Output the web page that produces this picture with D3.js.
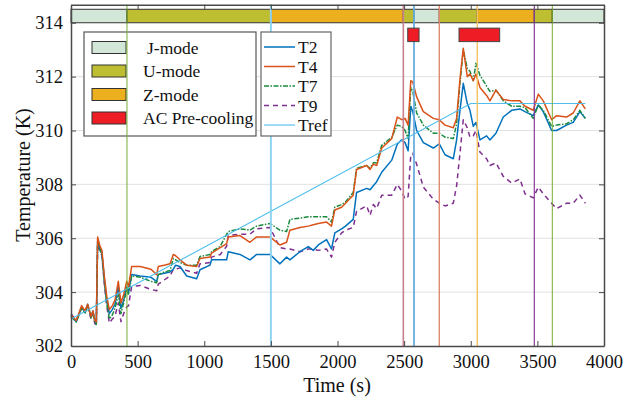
<html>
    <head>
        <script src="https://cdn.jsdelivr.net/npm/d3@7"></script>
        <style>
            body { margin: 0; background: white; }
        </style>
    </head>
    <body>

        <svg id="content"></svg>

        <script>

            // time samples (s) shared by all sensor series
            let times = [0,40,80,105,125,150,165,178,190,200,
                218,232,250,268,288,310,330,355,375,395,
                418,432,455,520,600,643,655,700,743,768,
                785,818,868,943,968,1043,1055,1120,1168,1180,
                1268,1343,1393,1493,1568,1618,1643,1718,1781,1818,
                1856,1918,1955,1980,2031,2060,2118,2143,2219,2244,
                2269,2294,2332,2407,
                2449,2482,2507,2530,2550,2565,2594,2644,2719,2764,
                2807,2869,2894,2919,2944,2974,2994,3019,3039,3069,
                3119,3144,3189,3244,3307,3369,3407,3469,3507,3544,
                3607,3644,3719,3769,3819,3860];

            let T2 = [303.1,302.9,303.45,303.25,303.55,303.1,303.3,302.95,302.85,305.9,
                305.6,305.45,304.5,303.7,303.2,303.35,303.55,304.2,303.4,303.7,
                304.2,304.0,304.65,304.6,304.55,304.4,304.65,304.7,304.75,304.85,
                305.0,304.95,304.6,304.5,304.83,305.0,305.2,305.2,305.2,305.5,
                305.4,305.2,305.4,305.4,305.05,305.3,305.2,305.5,305.69,305.55,
                305.75,305.95,305.6,306.2,306.35,306.45,306.7,307.7,307.85,307.8,
                307.95,308.1,308.45,308.9,
                309.5,309.65,309.55,309.25,310.9,310.7,310.0,309.55,309.35,309.5,
                309.1,308.95,309.65,310.75,311.75,311.0,310.75,310.15,310.3,309.65,
                309.8,309.65,309.9,310.5,310.75,310.8,310.7,310.55,310.95,310.7,
                310.0,310.0,310.2,310.3,310.7,310.45];

            let T4 = [303.15,302.95,303.5,303.3,303.55,303.1,303.3,302.95,302.9,306.05,
                305.7,305.55,304.6,303.85,303.35,303.5,303.7,304.4,303.6,303.9,
                304.4,304.2,304.95,304.95,304.85,304.65,304.95,305.0,305.05,305.4,
                305.35,305.2,305.0,304.95,305.25,305.3,305.45,305.65,305.8,306.05,
                306.1,305.85,306.05,306.05,305.75,305.85,306.3,306.4,306.45,306.5,
                306.55,306.6,306.45,307.05,307.15,307.3,307.6,308.55,308.7,308.55,
                308.75,308.7,309.35,309.7,
                310.5,310.4,310.45,310.2,311.85,311.8,311.25,310.7,310.45,310.4,
                310.2,310.1,310.45,311.9,313.05,312.0,312.1,311.85,312.1,311.6,
                311.3,311.1,311.5,311.15,311.1,311.1,310.9,310.75,311.35,311.1,
                310.4,310.55,310.5,310.65,311.1,310.8];

            let T7 = [303.1,302.9,303.4,303.2,303.5,303.05,303.25,302.9,302.8,305.95,
                305.55,305.4,304.4,303.6,303.0,303.15,303.4,303.9,303.2,303.6,
                304.1,303.9,304.6,304.55,304.4,304.35,304.65,304.75,304.8,305.25,
                305.2,305.1,305.0,305.0,305.32,305.4,305.5,305.7,306.15,306.25,
                306.35,306.3,306.45,306.55,306.3,306.25,306.7,306.75,306.8,306.8,
                306.8,306.8,306.6,307.15,307.25,307.35,307.7,308.6,308.7,308.6,
                308.8,308.8,309.45,309.75,
                310.2,310.15,310.0,309.7,311.6,311.45,310.65,310.2,309.9,309.9,
                309.75,309.7,310.25,311.75,313.0,312.3,312.2,311.85,312.5,312.05,
                311.65,311.45,311.5,311.1,310.9,310.9,310.85,310.45,310.95,310.75,
                310.15,310.2,310.25,310.4,310.75,310.45];

            let T9 = [303.2,302.95,303.45,303.25,303.5,303.0,303.2,302.85,302.75,305.8,
                305.5,305.35,304.3,303.5,302.85,303.0,303.1,303.6,302.9,303.2,
                303.45,303.5,304.2,304.25,304.1,304.05,304.3,304.45,304.6,304.85,
                304.85,304.9,304.8,304.7,305.05,305.1,305.3,305.4,305.7,306.1,
                306.15,306.15,306.35,306.4,305.65,305.6,305.6,305.5,305.6,305.6,
                305.55,305.6,305.3,305.85,306.2,306.3,306.4,307.0,307.2,306.85,
                307.25,307.1,307.6,307.6,
                308.0,307.75,307.45,307.55,309.1,309.15,308.75,307.9,307.45,307.3,
                307.2,307.3,307.95,309.15,310.4,310.1,309.75,309.8,310.0,309.2,
                308.95,308.7,308.8,308.3,308.05,308.2,307.65,307.5,307.9,307.65,
                307.3,307.1,307.3,307.3,307.6,307.3];

            // reference ramp
            let trefTimes = [0, 3000, 3860];
            let trefValues = [303.0, 311.0, 311.0];

            // operating modes along the top bar
            let modeNames = ["J-mode", "U-mode", "Z-mode", "AC Pre-cooling"];
            let modeSeq = ["J-mode","U-mode","Z-mode","U-mode","J-mode","U-mode","Z-mode","U-mode","J-mode"];
            let modeStarts = [0, 420, 1500, 2494, 2574, 2764, 3049, 3477, 3612];
            let modeEnds = [420, 1500, 2494, 2574, 2764, 3049, 3477, 3612, 4000];

            let coolStarts = [2527, 2912];
            let coolEnds = [2612, 3217];

            // switching instants marked by vertical lines
            let eventTimes = [420, 1500, 2494, 2574, 2764, 3049, 3477, 3612];

            let xTicks = [0, 500, 1000, 1500, 2000, 2500, 3000, 3500, 4000];
            let yTicks = [302, 304, 306, 308, 310, 312, 314];

            let seriesNames = ["T2", "T4", "T7", "T9", "Tref"];

            // ---- styles ----
            let serif = "'Liberation Serif', 'Times New Roman', 'DejaVu Serif', serif";
            let modeColor = {"J-mode": "#d3e7d8", "U-mode": "#bdbe32", "Z-mode": "#ecb01f", "AC Pre-cooling": "#ee1c25"};
            let seriesStyle = {
                T2: {color: "#0072bd", width: 1.5, dash: null},
                T4: {color: "#d95319", width: 1.5, dash: null},
                T7: {color: "#1a8a3f", width: 1.5, dash: "5,1.5,1.5,1.5"},
                T9: {color: "#7e2f8e", width: 1.5, dash: "5,4"},
                Tref: {color: "#4dbeee", width: 1.1, dash: null}
            };
            let eventColors = ["#77ac30", "#8fd3f2", "#c9808e", "#6aaee0", "#e08a70", "#f5c462", "#8a3d99", "#77ac30"];
            let eventWidths = [1, 2, 1.6, 1.8, 1.4, 1.4, 1.2, 1];

            let bodyHeight = 402;
            let bodyWidth = 633;

            let body = d3.select("#content")
                            .attr("height", bodyHeight)
                            .attr("width", bodyWidth);

            let x = d3.scaleLinear().domain([0, 4000]).range([71, 604]);
            let y = d3.scaleLinear().domain([302, 314.67]).range([346, 4.7]);

            // grid
            body.append("g")
                .selectAll("line")
                .data(yTicks.filter(d => d > 302 && d < 314))
                .enter()
                .append("line")
                .attr("x1", x(0)).attr("x2", x(4000))
                .attr("y1", d => y(d)).attr("y2", d => y(d))
                .attr("stroke", "#e2e2e2")
                .attr("stroke-width", 1);

            // sensor lines
            let series = {T2: T2, T4: T4, T7: T7, T9: T9};
            let line = d3.line().x(d => x(d[0])).y(d => y(d[1]));

            let drawOrder = ["T9", "T2", "T7", "T4"];
            drawOrder.forEach(name => {
                let pts = times.map((t, i) => [t, series[name][i]]);
                body.append("path")
                    .attr("d", line(pts))
                    .attr("fill", "none")
                    .attr("stroke", seriesStyle[name].color)
                    .attr("stroke-width", seriesStyle[name].width)
                    .attr("stroke-linejoin", "round")
                    .attr("stroke-dasharray", seriesStyle[name].dash);
            });

            body.append("path")
                .attr("d", line(trefTimes.map((t, i) => [t, trefValues[i]])))
                .attr("fill", "none")
                .attr("stroke", seriesStyle.Tref.color)
                .attr("stroke-width", seriesStyle.Tref.width);

            // legend for modes
            let leg1 = body.append("g");
            leg1.append("rect")
                .attr("x", 84).attr("y", 32)
                .attr("width", 172).attr("height", 104)
                .attr("fill", "white")
                .attr("stroke", "#555")
                .attr("stroke-width", 1.2);

            let leg1Item = leg1.selectAll("g")
                .data(modeNames)
                .enter()
                .append("g")
                .attr("transform", (d, i) => `translate(0, ${47.5 + i * 23.5})`);

            leg1Item.append("rect")
                .attr("x", 92).attr("y", -6)
                .attr("width", 34).attr("height", 12)
                .attr("fill", d => modeColor[d])
                .attr("stroke", "#333")
                .attr("stroke-width", 1);

            leg1Item.append("text")
                .text(d => d)
                .attr("x", (d, i) => i == 0 ? 147 : 143)
                .attr("y", 6)
                .attr("font-size", 17.5)
                .attr("fill", "#111");

            // mode bar
            body.append("g")
                .selectAll("rect")
                .data(modeSeq)
                .enter()
                .append("rect")
                .attr("x", (d, i) => x(modeStarts[i]))
                .attr("width", (d, i) => x(modeEnds[i]) - x(modeStarts[i]))
                .attr("y", y(314.5))
                .attr("height", y(314) - y(314.5))
                .attr("fill", d => modeColor[d])
                .attr("stroke", "#333")
                .attr("stroke-width", 1);

            // event lines
            body.append("g")
                .selectAll("line")
                .data(eventTimes)
                .enter()
                .append("line")
                .attr("x1", d => x(d)).attr("x2", d => x(d))
                .attr("y1", y(314.67)).attr("y2", y(302))
                .attr("stroke", (d, i) => eventColors[i])
                .attr("stroke-width", (d, i) => eventWidths[i]);

            // AC pre-cooling blocks
            body.append("g")
                .selectAll("rect")
                .data(coolStarts)
                .enter()
                .append("rect")
                .attr("x", d => x(d))
                .attr("width", (d, i) => x(coolEnds[i]) - x(d))
                .attr("y", y(313.8))
                .attr("height", y(313.3) - y(313.8))
                .attr("fill", modeColor["AC Pre-cooling"])
                .attr("stroke", "#444")
                .attr("stroke-width", 1);

            // legend for lines
            let leg2 = body.append("g");
            leg2.append("rect")
                .attr("x", 261).attr("y", 32)
                .attr("width", 70).attr("height", 104)
                .attr("fill", "white")
                .attr("stroke", "#666")
                .attr("stroke-width", 1.2);

            let leg2Item = leg2.selectAll("g")
                .data(seriesNames)
                .enter()
                .append("g")
                .attr("transform", (d, i) => `translate(0, ${47 + i * 19.5})`);

            leg2Item.append("line")
                .attr("x1", 264).attr("x2", 295)
                .attr("stroke", d => seriesStyle[d].color)
                .attr("stroke-width", d => seriesStyle[d].width)
                .attr("stroke-dasharray", d => seriesStyle[d].dash);

            leg2Item.append("text")
                .text(d => d)
                .attr("x", 298)
                .attr("y", 6)
                .attr("font-size", 17.5)
                .attr("fill", "#111");

            // axes
            let fmt = d3.format("d");
            let xAxis = d3.axisBottom(x).tickValues(xTicks).tickFormat(fmt).tickSizeInner(-5).tickSizeOuter(0).tickPadding(9);
            let yAxis = d3.axisLeft(y).tickValues(yTicks).tickFormat(fmt).tickSizeInner(-5).tickSizeOuter(0).tickPadding(8);

            body.append("g").attr("transform", `translate(0, ${y(302)})`).call(xAxis);
            body.append("g").attr("transform", `translate(${x(0)}, 0)`).call(yAxis);

            body.append("g").attr("transform", `translate(0, ${y(314.67)})`)
                .call(d3.axisTop(x).tickValues(xTicks).tickSizeInner(-5).tickSizeOuter(0).tickFormat(""));
            body.append("g").attr("transform", `translate(${x(4000)}, 0)`)
                .call(d3.axisRight(y).tickValues(yTicks).tickSizeInner(-5).tickSizeOuter(0).tickFormat(""));

            body.selectAll(".domain").attr("stroke", "#4a4a4a").attr("stroke-width", 1.5);
            body.selectAll(".tick line").attr("stroke", "#4a4a4a");
            body.selectAll(".tick text")
                .attr("font-size", 18.5)
                .attr("fill", "#111");

            body.append("text")
                .text("Time (s)")
                .attr("x", 337).attr("y", 392)
                .attr("text-anchor", "middle")
                .attr("font-size", 20)
                .attr("fill", "#111");

            body.append("text")
                .text("Temperature (K)")
                .attr("transform", "translate(30, 175) rotate(-90)")
                .attr("text-anchor", "middle")
                .attr("font-size", 20)
                .attr("fill", "#111");

            // serif face everywhere
            body.selectAll("g").attr("font-family", null);
            body.selectAll("text").style("font-family", serif);

        </script>
    </body>
</html>
